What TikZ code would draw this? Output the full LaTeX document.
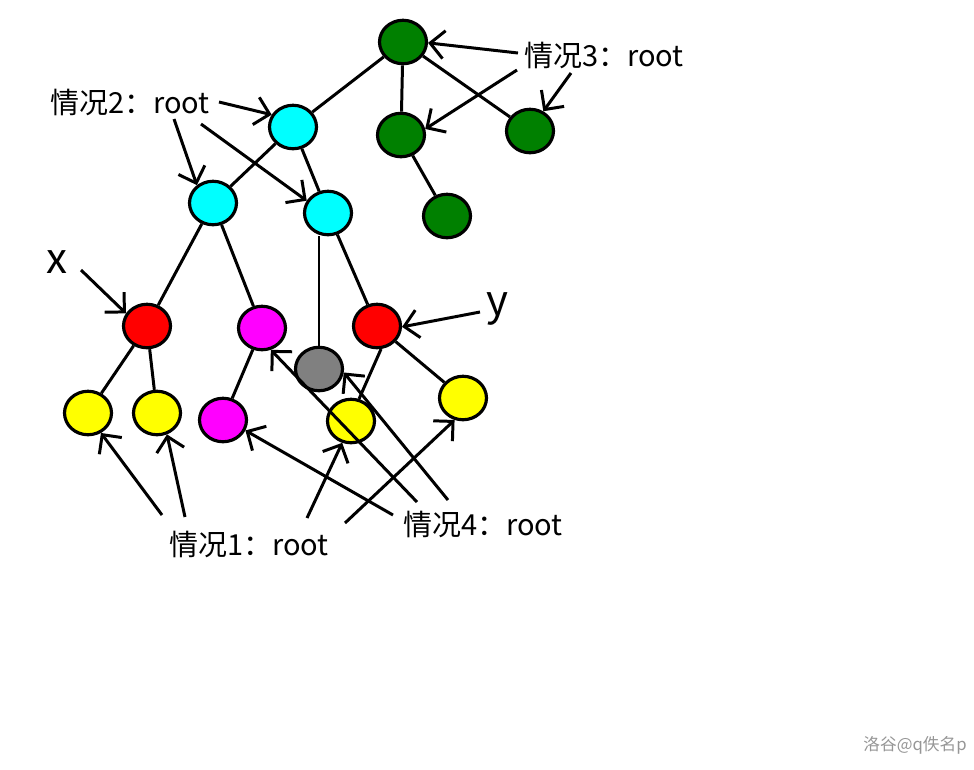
\documentclass[tikz,border=0pt]{standalone}
\usepackage{fontspec}
\setmainfont{Noto Sans CJK SC}
\usetikzlibrary{arrows.meta, shapes.geometric}

\definecolor{treegreen}{RGB}{0,128,0}
\definecolor{treecyan}{RGB}{0,255,255}
\definecolor{treered}{RGB}{255,0,0}
\definecolor{treemagenta}{RGB}{255,0,255}
\definecolor{treeyellow}{RGB}{255,255,0}
\definecolor{treegray}{RGB}{128,128,128}
\definecolor{markgray}{RGB}{150,150,150}

\begin{document}
\begin{tikzpicture}[x=0.02cm, y=-0.02cm, line width=1.7pt,
        >={Straight Barb[length=2.8mm, width=5.6mm]},
        vtx/.style={ellipse, draw=black, line width=1.8pt, minimum width=0.94cm, minimum height=0.87cm, inner sep=0pt},
        case/.style={font=\fontsize{16.5}{19}\selectfont, inner sep=1pt},
        letter/.style={font=\fontsize{24}{28}\selectfont, inner sep=1pt}]

        \useasboundingbox (0,0) rectangle (974,769);

        % ==========================================
        % 1. Vertices
        % ==========================================
        \node[vtx, fill=treegreen] (g0) at (403,42) {};
        \node[vtx, fill=treegreen] (g1) at (401,135) {};
        \node[vtx, fill=treegreen] (g2) at (530,131) {};
        \node[vtx, fill=treegreen] (g3) at (447,216) {};

        \node[vtx, fill=treecyan] (c0) at (293,127) {};
        \node[vtx, fill=treecyan] (c1) at (213,203) {};
        \node[vtx, fill=treecyan] (c2) at (328,213) {};

        \node[vtx, fill=treered] (rx) at (147,326) {};
        \node[vtx, fill=treemagenta] (m0) at (262,328) {};
        \node[vtx, fill=treegray] (gr) at (319,369) {};
        \node[vtx, fill=treered] (ry) at (377,326) {};

        \node[vtx, fill=treeyellow] (y1) at (88,413) {};
        \node[vtx, fill=treeyellow] (y2) at (157,413) {};
        \node[vtx, fill=treemagenta] (m1) at (223,420) {};
        \node[vtx, fill=treeyellow] (y3) at (351,421) {};
        \node[vtx, fill=treeyellow] (y4) at (463,398) {};

        % ==========================================
        % 2. Tree edges
        % ==========================================
        \draw (g0) -- (c0);
        \draw (g0) -- (g1);
        \draw (g0) -- (g2);
        \draw (g1) -- (g3);
        \draw (c0) -- (c1);
        \draw (c0) -- (c2);
        \draw (c1) -- (rx);
        \draw (c1) -- (m0);
        \draw (c2.south -| gr) -- (gr);
        \draw (c2) -- (ry);
        \draw (rx) -- (y1);
        \draw (rx) -- (y2);
        \draw (m0) -- (m1);
        \draw (ry.-80) -- (y3.70);
        \draw (ry) -- (y4);

        % ==========================================
        % 3. Labels and their arrows
        % ==========================================
        \node[case] (case3) at (604,55) {情况3：root};
        \coordinate (c3a) at (518,53);
        \coordinate (c3b) at (517,70);
        \coordinate (c3c) at (571,73);
        \draw[->] (c3a) -- (g0.-2);
        \draw[->] (c3b) -- (g1.14);
        \draw[->] (c3c) -- (g2.56);

        \node[case] (case2) at (130,102) {情况2：root};
        \coordinate (c2a) at (219,102);
        \coordinate (c2b) at (174,119);
        \coordinate (c2c) at (201,124);
        \draw[->] (c2a) -- (c0.150);
        \draw[->] (c2b) -- (c1.132);
        \draw[->] (c2c) -- (c2.150);

        \node[letter] (lx) at (57,262) {x};
        \coordinate (xa) at (81,270);
        \draw[->] (xa) -- (rx.149);

        \node[letter] (ly) at (497,309) {y};
        \coordinate (ya) at (480,312);
        \draw[->] (ya) -- (ry.-2);

        \node[case] (case1) at (249,544) {情况1：root};
        \coordinate (c1a) at (162,515);
        \coordinate (c1b) at (185,517);
        \coordinate (c1c) at (307,518);
        \coordinate (c1d) at (345,523);
        \draw[->] (c1a) -- (y1.-57);
        \draw[->] (c1b) -- (y2.-65);
        \draw[->] (c1c) -- (y3.-112);
        \draw[->] (c1d) -- (y4.-111);

        \node[case] (case4) at (483,524) {情况4：root};
        \coordinate (c4a) at (393,515);
        \coordinate (c4b) at (417,502);
        \coordinate (c4c) at (448,500);
        \draw[->] (c4a) -- (m1.-25);
        \draw[->] (c4b) -- (m0.-68);
        \draw[->] (c4c) -- (gr.-8);

        % watermark
        \node[font=\fontsize{9.5}{11}\selectfont, text=markgray] (wm) at (915,745) {洛谷@q佚名p};

    \end{tikzpicture}
\end{document}
